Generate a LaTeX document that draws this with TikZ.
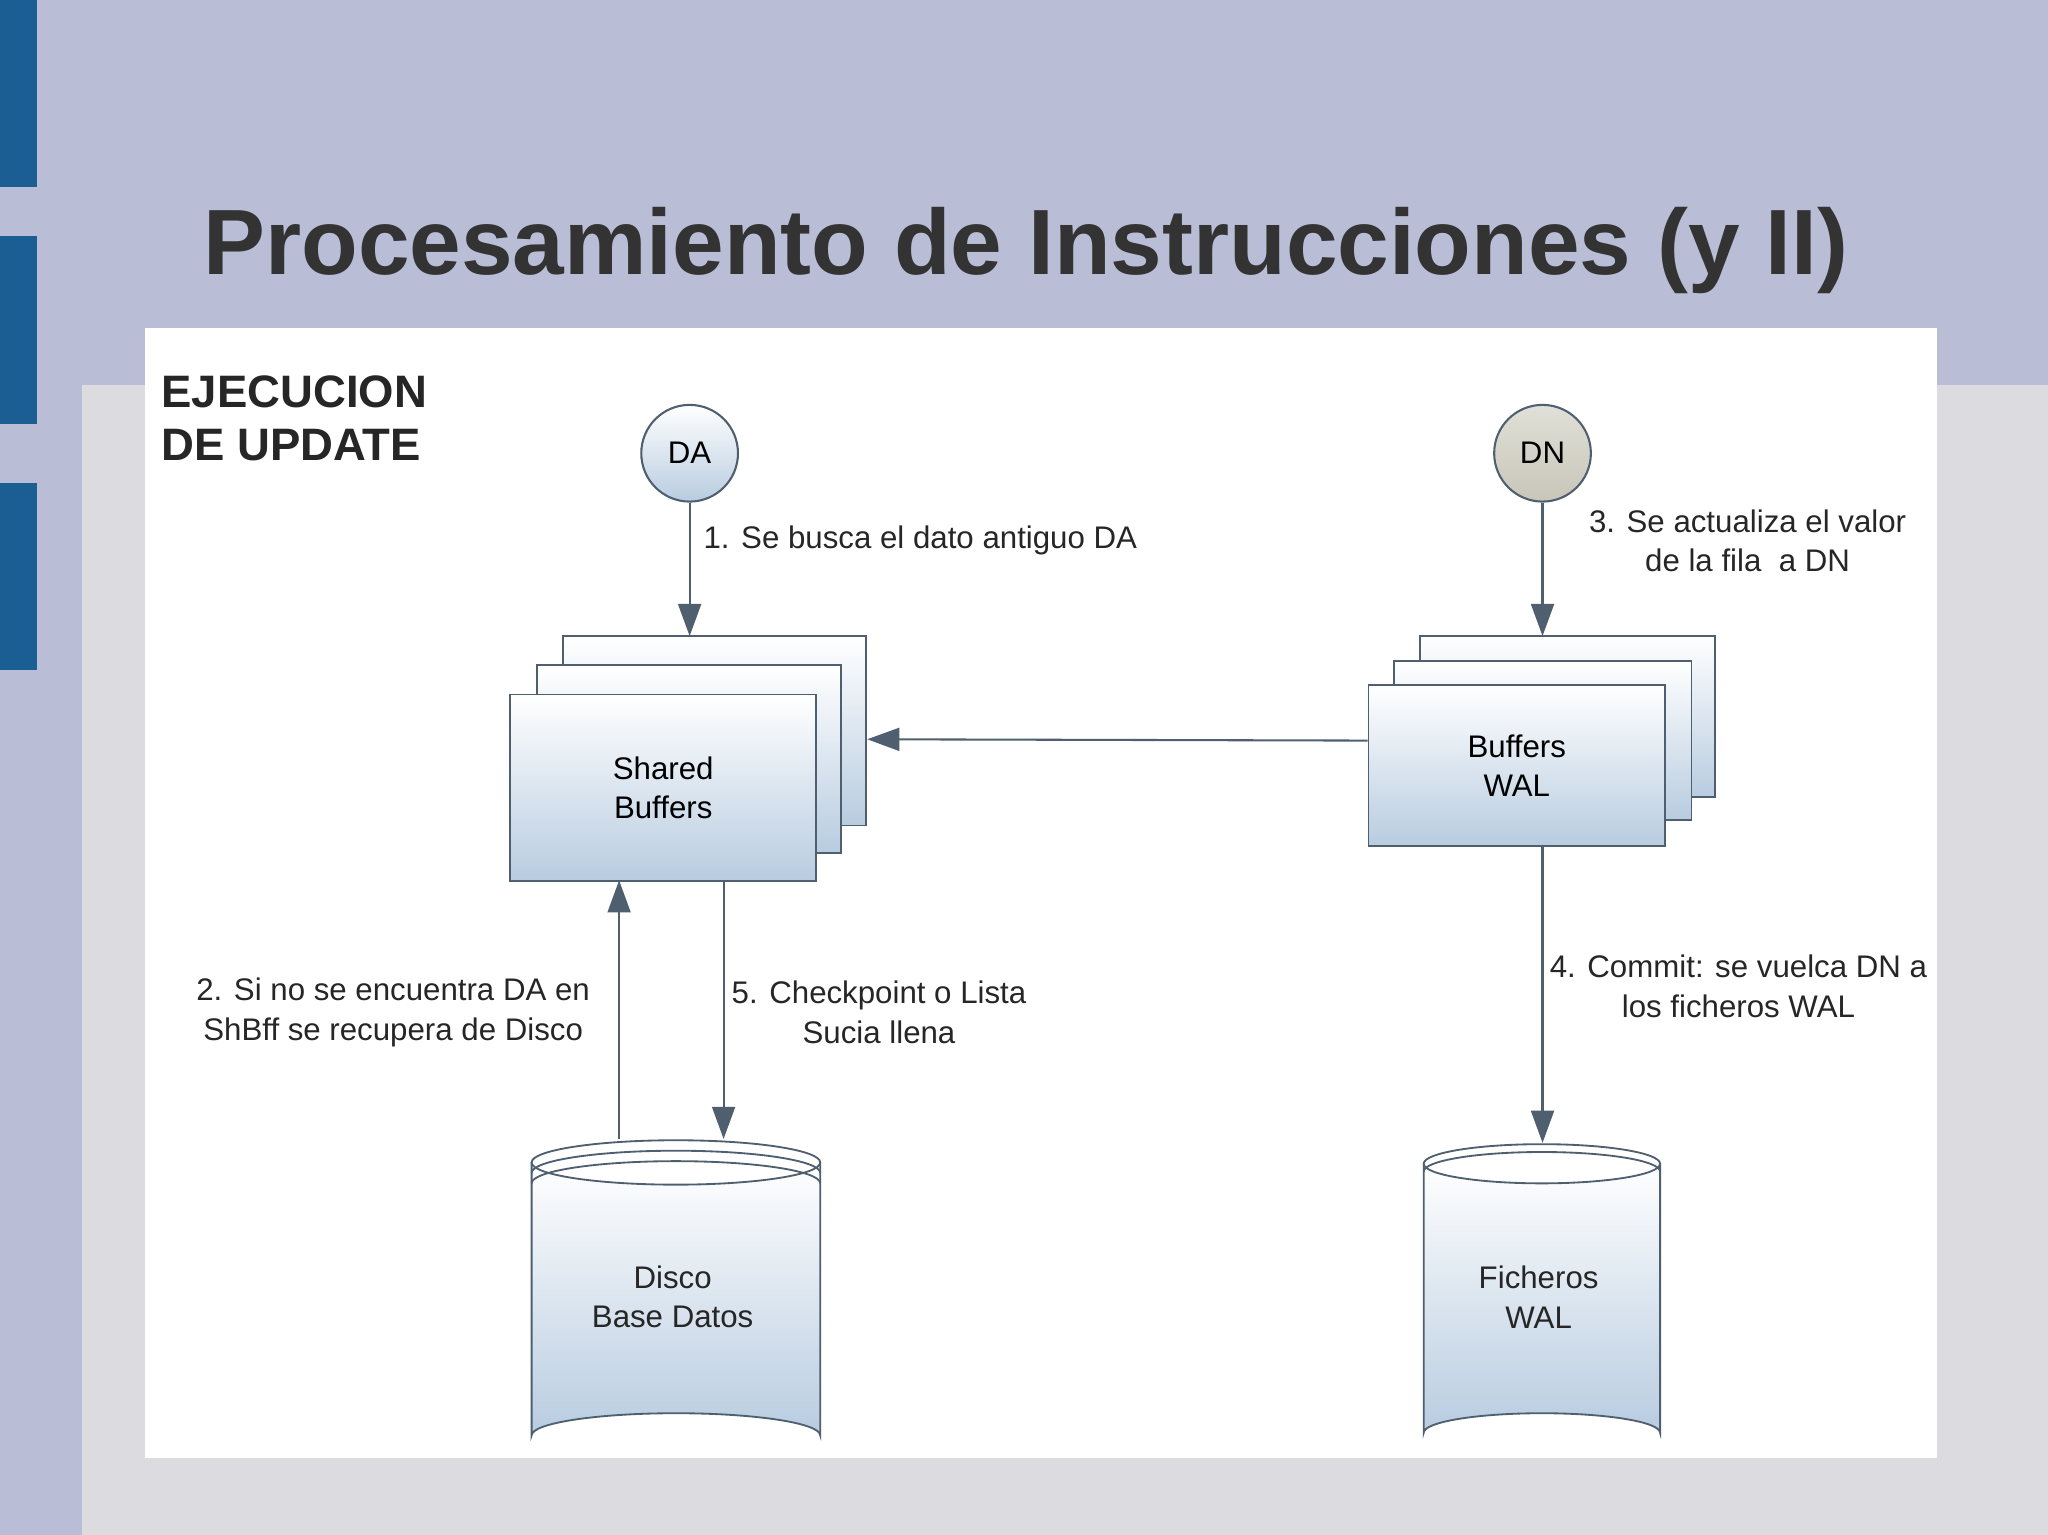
\documentclass[tikz,border=0pt]{standalone}
\usepackage{fontspec}
\setmainfont{Liberation Sans}
\usetikzlibrary{arrows.meta}
\definecolor{lav}{HTML}{B9BED6}
\definecolor{gr}{HTML}{DCDCE0}
\definecolor{bb}{HTML}{1A5E94}
\definecolor{edge}{HTML}{4F5F70}
\definecolor{lb}{HTML}{B8CCE0}
\begin{document}
\begin{tikzpicture}[x=0.01cm,y=-0.01cm,
  lbl/.style={font=\fontsize{6.8}{8.6}\selectfont, text=black!85, align=center, inner sep=0pt},
  boxs/.style={draw=edge, line width=0.4pt, top color=white, bottom color=lb},
  conn/.style={draw=edge, line width=0.45pt, -{Triangle[length=7pt,width=5pt]}},
  circ/.style={circle, draw=edge, line width=0.45pt, minimum size=0.74cm, inner sep=0pt, font=\fontsize{6.8}{8}\selectfont}]
\useasboundingbox (0,0) rectangle (1568,1175);
\fill[lav] (0,0) rectangle (1568,1175);
\fill[gr] (63,295) rectangle (1568,1175);
\fill[bb] (0,0) rectangle (28,143);
\fill[bb] (0,181) rectangle (28,325);
\fill[bb] (0,370) rectangle (28,513);
\fill[white] (111,251) rectangle (1483,1116);
\node[anchor=base west, inner sep=0pt, font=\fontsize{20.2}{24}\bfseries\selectfont, text=black!80] (title) at (155,210) {Procesamiento de Instrucciones (y II)};
\node[anchor=north west, align=left, inner sep=0pt, font=\fontsize{9.9}{11.5}\bfseries\selectfont, text=black!85] (ej) at (123,287) {EJECUCION\\DE UPDATE};
% circles
\node[circ, top color=white, bottom color=lb] (DA) at (528,347) {DA};
\node[circ, top color={rgb,255:red,225;green,224;blue,216}, bottom color={rgb,255:red,200;green,198;blue,185}] (DN) at (1181,347) {DN};
% shared buffers stack
\path[boxs] (431,487) rectangle (663,632);
\path[boxs] (411,509) rectangle (644,653);
\node[boxs, minimum width=2.34cm, minimum height=1.43cm, anchor=north west, align=center, font=\fontsize{6.8}{8.6}\selectfont] (SB) at (390,531) {Shared\\Buffers};
% WAL buffers stack
\path[boxs] (1087,487) rectangle (1313,610);
\path[boxs] (1067,506) rectangle (1295,628);
\node[boxs, minimum width=2.27cm, minimum height=1.23cm, anchor=north west, align=center, font=\fontsize{6.8}{8.6}\selectfont] (BW) at (1047,524) {Buffers\\WAL};
% Disco cylinder
\shade[top color=white, bottom color=lb] (407,890) -- (407,1099) arc[start angle=180,end angle=360,x radius=110.5,y radius=17] -- (628,890) arc[start angle=0,end angle=180,x radius=110.5,y radius=17];
\draw[edge, line width=0.4pt] (407,890) -- (407,1099) arc[start angle=180,end angle=360,x radius=110.5,y radius=17] -- (628,890);
\draw[edge, line width=0.4pt] (517.5,890) ellipse[x radius=110.5,y radius=17];
\draw[edge, line width=0.4pt] (407,898) arc[start angle=180,end angle=360,x radius=110.5,y radius=17];
\draw[edge, line width=0.4pt] (407,906) arc[start angle=180,end angle=360,x radius=110.5,y radius=17];
\node[lbl, minimum width=2.21cm, minimum height=2.43cm] (DB) at (517.5,994) {};
\node[lbl] (dbt) at (515,993) {Disco\\Base Datos};
% Ficheros cylinder
\shade[top color=white, bottom color=lb] (1090,891) -- (1090,1097) arc[start angle=180,end angle=360,x radius=90.5,y radius=15] -- (1271,891) arc[start angle=0,end angle=180,x radius=90.5,y radius=15];
\draw[edge, line width=0.4pt] (1090,891) -- (1090,1097) arc[start angle=180,end angle=360,x radius=90.5,y radius=15] -- (1271,891);
\draw[edge, line width=0.4pt] (1180.5,891) ellipse[x radius=90.5,y radius=15];
\draw[edge, line width=0.4pt] (1090,897) arc[start angle=180,end angle=360,x radius=90.5,y radius=15];
\node[lbl, minimum width=1.81cm, minimum height=2.36cm] (FW) at (1180.5,994) {};
\node[lbl] (fwt) at (1178,993) {Ficheros\\WAL};
% connectors
\coordinate (sbtop) at (528,487);
\coordinate (bwtop) at (1181,487);
\coordinate (sbr) at (664,566);
\coordinate (dbin) at (554,872);
\coordinate (dbout) at (474,872);
\coordinate (fwin) at (1181,875);
\draw[conn] (DA) -- (sbtop);
\draw[conn] (DN) -- (bwtop);
\draw[conn] (BW.west |- 0,567) -- (sbr);
\draw[conn] (dbout) -- (474,674);
\draw[conn] (554,674) -- (dbin);
\draw[conn] (1181,647) -- (fwin);
% labels
\node[lbl, anchor=west] (l1) at (538,414) {1. Se busca el dato antiguo DA};
\node[lbl] (l3) at (1338,414) {3. Se actualiza el valor\\de la fila\ \ a DN};
\node[lbl] (l2) at (301,775) {2. Si no se encuentra DA en\\ShBff se recupera de Disco};
\node[lbl] (l5) at (673,775) {5. Checkpoint o Lista\\Sucia llena};
\node[lbl] (l4) at (1331,755) {4. Commit: se vuelca DN a\\los ficheros WAL};
\end{tikzpicture}
\end{document}
